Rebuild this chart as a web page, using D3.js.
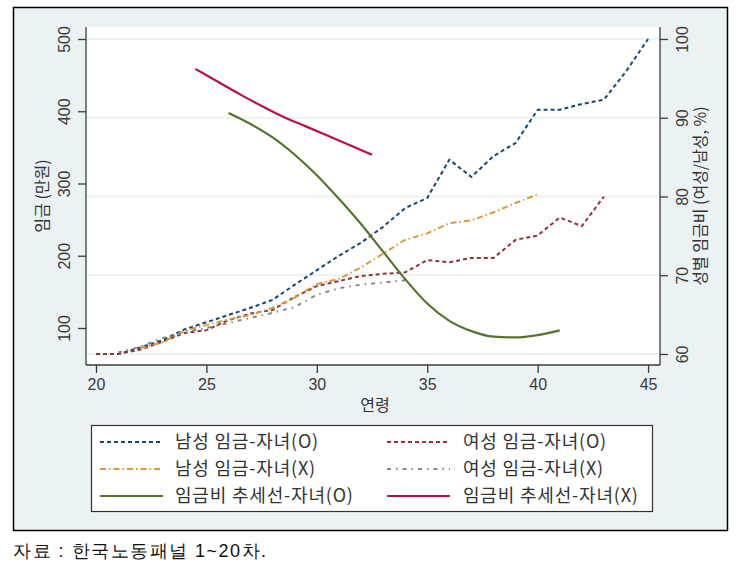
<!DOCTYPE html>
<html><head><meta charset="utf-8">
<script src="https://cdn.jsdelivr.net/npm/d3@7"></script>
<style>
html,body{margin:0;padding:0;background:#fff;}
svg text{font-family:"Liberation Sans",Arial,sans-serif;}
.kr{font-family:"Noto Sans CJK KR","Liberation Sans",sans-serif;}
</style></head>
<body><svg id="c" width="750" height="567"></svg>
<script>
// ---- data ----
const agesMaleO = d3.range(20, 46);
const maleO = [64,64,73,83,98,108,118,128,139,160,180,200,218,240,266,280,333,309,338,356,402,402,410,416,455,500];
const agesFemaleO = d3.range(20, 44);
const femaleO = [64,64,70,81,93,97,111,120,125,143,158,165,172,175,177,194,191,197,197,222,228,253,241,282];
const agesMaleX = d3.range(22, 41);
const maleX = [72,80,96,104,112,118,128,142,161,168,184,203,222,231,245,249,260,273,285];
const agesFemaleX = d3.range(21, 35);
const femaleX = [66,74,86,94,100,107,114,121,129,146,155,160,163,166];
const agesTrendO = d3.range(26, 42);
const trendO = [90.6,89.2,87.5,85.3,82.7,79.7,76.5,73.0,69.5,66.4,64.2,62.9,62.2,62.1,62.4,63.0];
const agesTrendX = [24.5,25.5,26.5,27.5,28.5,29.5,30.5,31.5,32.5];
const trendX = [96.2,94.6,93.0,91.5,90.1,88.9,87.7,86.5,85.3];
const xTicks = [20,25,30,35,40,45];
const yLeftTicks = [100,200,300,400,500];
const yRightTicks = [60,70,80,90,100];
const legendLabels = ["남성 임금-자녀(O)","여성 임금-자녀(O)","남성 임금-자녀(X)","여성 임금-자녀(X)","임금비 추세선-자녀(O)","임금비 추세선-자녀(X)"];

// ---- layout ----
const svg = d3.select("#c");
const L = 86, R = 660, T = 27, B = 365;
const x = d3.scaleLinear().domain([19.547, 45.54]).range([L, R]);
const yL = d3.scaleLinear().domain([48.8, 516.6]).range([B, T]);
const yR = d3.scaleLinear().domain([58.6, 101.52]).range([B, T]);

// outer frame
svg.append("rect").attr("x",13.5).attr("y",7.5).attr("width",714).attr("height",523)
  .attr("fill","#eaf2f3").attr("stroke","#000").attr("stroke-width",1.5);
// plot region
svg.append("rect").attr("x",L).attr("y",T).attr("width",R-L).attr("height",B-T).attr("fill","#fff");

// gridlines
svg.append("g").selectAll("line").data(yRightTicks).join("line")
  .attr("x1",L).attr("x2",R).attr("y1",d=>yR(d)).attr("y2",d=>yR(d))
  .attr("stroke","#eaf2f3").attr("stroke-width",2);

// axes
const axCol = "#3c3c3c";
const gx = svg.append("g").attr("transform",`translate(0,${B})`)
  .call(d3.axisBottom(x).tickValues(xTicks).tickSize(8).tickPadding(6).tickFormat(d3.format("d")));
const gl = svg.append("g").attr("transform",`translate(${L},0)`)
  .call(d3.axisLeft(yL).tickValues(yLeftTicks).tickSize(8).tickFormat(d3.format("d")));
const gr = svg.append("g").attr("transform",`translate(${R},0)`)
  .call(d3.axisRight(yR).tickValues(yRightTicks).tickSize(8).tickFormat(d3.format("d")));
[gx,gl,gr].forEach(g=>{
  g.select(".domain").attr("stroke",axCol).attr("stroke-width",1.3);
  g.selectAll(".tick line").attr("stroke",axCol).attr("stroke-width",1.3);
  g.selectAll("text").attr("fill","#3a3a3a").attr("font-size",16).attr("font-family","Liberation Sans, Arial, sans-serif");
});
gx.selectAll(".domain").attr("d",`M${L},0H${R}`);
gl.selectAll(".domain").attr("d",`M0,${B}V${T}`);
gr.selectAll(".domain").attr("d",`M0,${B}V${T}`);
// rotate y tick labels
gl.selectAll(".tick text").attr("transform","rotate(-90)").attr("x",0).attr("y",-16)
  .attr("dy","0").attr("text-anchor","middle");
gr.selectAll(".tick text").attr("transform","rotate(-90)").attr("x",0).attr("y",28)
  .attr("dy","0").attr("text-anchor","middle");

// axis titles
svg.append("text").attr("class","kr").attr("x",375).attr("y",411).attr("text-anchor","middle")
  .attr("font-size",16).attr("fill","#333").text("연령");
svg.append("text").attr("class","kr").attr("transform",`translate(48,${(T+B)/2}) rotate(-90)`)
  .attr("text-anchor","middle").attr("font-size",16).attr("fill","#333").text("임금 (만원)");
svg.append("text").attr("class","kr").attr("transform",`translate(706,${(T+B)/2}) rotate(-90)`)
  .attr("text-anchor","middle").attr("font-size",16).attr("fill","#333").text("성별 임금비 (여성/남성, %)");

// series
const series = [
  {ages:agesMaleO, vals:maleO, y:yL, color:"#1a476f", dash:"4,3", curve:d3.curveLinear, w:2},
  {ages:agesFemaleO, vals:femaleO, y:yL, color:"#90353b", dash:"4,3", curve:d3.curveLinear, w:2},
  {ages:agesMaleX, vals:maleX, y:yL, color:"#d99a3a", dash:"6,3,1.5,3", curve:d3.curveLinear, w:2},
  {ages:agesFemaleX, vals:femaleX, y:yL, color:"#808a88", dash:"4,5,1.5,5", curve:d3.curveLinear, w:2},
  {ages:agesTrendO, vals:trendO, y:yR, color:"#55752f", dash:null, curve:d3.curveMonotoneX, w:2.2},
  {ages:agesTrendX, vals:trendX, y:yR, color:"#b8104a", dash:null, curve:d3.curveMonotoneX, w:2.2}
];
const gS = svg.append("g");
series.forEach(s=>{
  const pts = s.ages.map((a,i)=>[a,s.vals[i]]);
  const line = d3.line().x(d=>x(d[0])).y(d=>s.y(d[1])).curve(s.curve);
  gS.append("path").attr("d",line(pts)).attr("fill","none").attr("stroke",s.color)
    .attr("stroke-width",s.w).attr("stroke-dasharray",s.dash).attr("stroke-linejoin","round");
});

// legend
const lg = svg.append("g");
lg.append("rect").attr("x",91.5).attr("y",425.5).attr("width",561).attr("height",86)
  .attr("fill","#fff").attr("stroke","#333").attr("stroke-width",1.2);
const colX = [[100,163,175],[387,450,463]];
const rowY = [442,469,496];
series.forEach((s,i)=>{
  const c = colX[i%2], r = rowY[Math.floor(i/2)];
  lg.append("line").attr("x1",c[0]).attr("x2",c[1]).attr("y1",r).attr("y2",r)
    .attr("stroke",s.color).attr("stroke-width",s.w).attr("stroke-dasharray",s.dash);
  lg.append("text").attr("class","kr").attr("x",c[2]).attr("y",r+6).attr("font-size",18)
    .attr("letter-spacing",0.8).attr("fill","#333").text(legendLabels[i]);
});

// source note
svg.append("text").attr("x",13).attr("y",557).attr("font-size",18).attr("letter-spacing",1.5)
  .attr("fill","#111").attr("font-family","Noto Serif CJK KR, Noto Sans CJK KR, serif").text("자료 : 한국노동패널 1~20차.");
</script></body></html>
